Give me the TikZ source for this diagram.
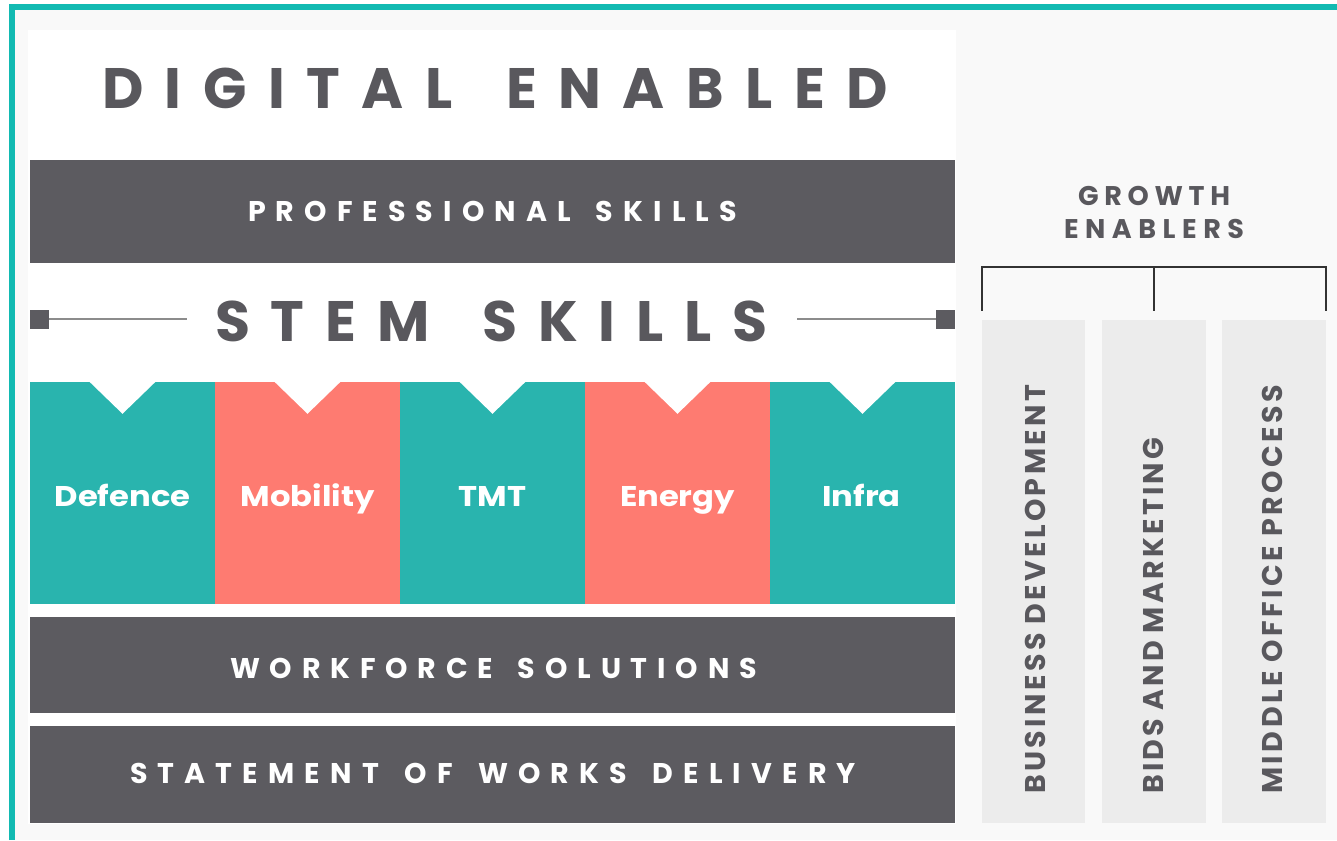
\documentclass[tikz,border=0pt]{standalone}
\usepackage{fontspec}
\setmainfont{Poppins}
\newfontfamily\widesans{Poppins}[FakeStretch=1.13]
\usetikzlibrary{calc}

\definecolor{frameteal}{HTML}{12BAB2}
\definecolor{pagegray}{HTML}{F9F9F9}
\definecolor{banddark}{HTML}{5C5B60}
\definecolor{inkgray}{HTML}{59585D}
\definecolor{sectorteal}{HTML}{29B4AE}
\definecolor{sectorcoral}{HTML}{FE7B71}
\definecolor{enablergray}{HTML}{ECECEC}
\definecolor{rulegray}{HTML}{8C8C8C}
\definecolor{bracketink}{HTML}{333333}

% Spread a (space separated) text evenly over a given width:
% equal glue between letters, a little more between words.
\ExplSyntaxOn
\seq_new:N \l_spread_words_seq
\cs_new_protected:Npn \spread_inner:n #1
  {
    \seq_set_split:Nnn \l_spread_words_seq { ~ } { #1 }
    \hskip 0pt plus -1fil
    \seq_map_indexed_inline:Nn \l_spread_words_seq
      {
        \int_compare:nNnT { ##1 } > { 1 } { \hskip 0pt plus 1.5fil }
        \tl_map_inline:nn { ##2 } { \hfil ####1 }
      }
  }
\NewDocumentCommand \spread { m m }
  { \makebox[#1][s]{ \spread_inner:n {#2} } }
\ExplSyntaxOff

\begin{document}
\begin{tikzpicture}[x=1pt,y=-1pt,
  band/.style={fill=banddark, minimum width=925pt, inner sep=0pt, draw=none},
  bandtext/.style={text=white, inner sep=0pt, anchor=base,
    font=\fontsize{28.5}{30}\selectfont\bfseries},
  bigtitle/.style={text=inkgray, inner sep=0pt, anchor=base,
    font=\fontsize{57}{60}\selectfont\bfseries},
  sector/.style={minimum width=185pt, minimum height=222pt, inner sep=0pt, draw=none},
  sectortext/.style={text=white, inner sep=0pt, anchor=base,
    font=\widesans\fontsize{28.5}{30}\selectfont\bfseries},
  notch/.style={fill=white},
  endsquare/.style={fill=banddark, minimum size=19pt, inner sep=0pt, draw=none},
  stemrule/.style={draw=rulegray, line width=2.2pt},
  enabler/.style={fill=enablergray, minimum height=503pt, inner sep=0pt, draw=none},
  enablertext/.style={text=inkgray, inner sep=0pt, rotate=90, anchor=base west,
    font=\fontsize{28.5}{30}\selectfont\bfseries},
  headtext/.style={text=inkgray, inner sep=0pt, anchor=base,
    font=\fontsize{27}{29}\selectfont\bfseries},
  bracket/.style={draw=bracketink, line width=1.8pt}
]
\useasboundingbox (0,0) rectangle (1337,840);

% page, frame and white panel
\fill[white] (0,0) rectangle (1337,840);
\fill[pagegray] (15,10) rectangle (1337,840);
\fill[white] (28,30) rectangle (956,824);
\draw[frameteal, line width=6pt] (12,840) -- (12,7) -- (1337,7);

% heading
\node[bigtitle] (digital) at (495,109) {\spread{786pt}{DIGITAL ENABLED}};

% professional skills band
\node[band, minimum height=103pt] (prof) at (492.5,211.5) {};
\node[bandtext] (proftext) at (492.5,221) {\spread{489pt}{PROFESSIONAL SKILLS}};

% STEM skills with end markers
\node[bigtitle] (stem) at (491.5,341) {\spread{553pt}{STEM SKILLS}};
\node[endsquare] (sqL) at (39.5,319) {};
\node[endsquare] (sqR) at (945.5,319) {};
\coordinate (stemL) at (187,319);
\coordinate (stemR) at (797,319);
\draw[stemrule] (sqL.east) -- (stemL);
\draw[stemrule] (stemR) -- (sqR.west);

% sector columns
\node[sector, fill=sectorteal]  (defence)  at (122.5,493) {};
\node[sector, fill=sectorcoral] (mobility) at (307.5,493) {};
\node[sector, fill=sectorteal]  (tmt)      at (492.5,493) {};
\node[sector, fill=sectorcoral] (energy)   at (677.5,493) {};
\node[sector, fill=sectorteal]  (infra)    at (862.5,493) {};
\foreach \s in {defence,mobility,tmt,energy,infra}
  \fill[notch] (\s.north) ++(-33,0) -- ++(66,0) -- ++(-33,32) -- cycle;
\node[sectortext] (defencet)  at (122.5,506) {Defence};
\node[sectortext] (mobilityt) at (307.5,506) {Mobility};
\node[sectortext] (tmtt)      at (492.5,506) {TMT};
\node[sectortext] (energyt)   at (677.5,506) {Energy};
\node[sectortext] (infrat)    at (861.5,506) {Infra};

% lower bands
\node[band, minimum height=96pt] (work) at (492.5,665) {};
\node[bandtext] (worktext) at (493.5,678) {\spread{527pt}{WORKFORCE SOLUTIONS}};
\node[band, minimum height=97pt] (sow) at (492.5,774.5) {};
\node[bandtext] (sowtext) at (493,783) {\spread{726pt}{STATEMENT OF WORKS DELIVERY}};

% growth enablers
\node[headtext] (growth) at (1154,205) {\spread{152pt}{GROWTH}};
\node[headtext] (enablers) at (1154,238) {\spread{180pt}{ENABLERS}};

\node[enabler, minimum width=103pt] (bizdev) at (1033.5,571.5) {};
\node[enabler, minimum width=104pt] (bids)   at (1154,571.5) {};
\node[enabler, minimum width=104pt] (midoff) at (1274,571.5) {};

\coordinate (brk) at (1154,267);
\draw[bracket] ([yshift=9pt]bizdev.north west) |- (brk) -| ([yshift=9pt]midoff.north east);
\draw[bracket] (brk) -- ([yshift=9pt]bids.north);

\node[enablertext] (bizdevt) at (1045,794) {\spread{409pt}{BUSINESS DEVELOPMENT}};
\node[enablertext] (bidst)   at (1163,794) {\spread{356pt}{BIDS AND MARKETING}};
\node[enablertext] (midofft) at (1282,794) {\spread{409pt}{MIDDLE OFFICE PROCESS}};
\end{tikzpicture}
\end{document}
